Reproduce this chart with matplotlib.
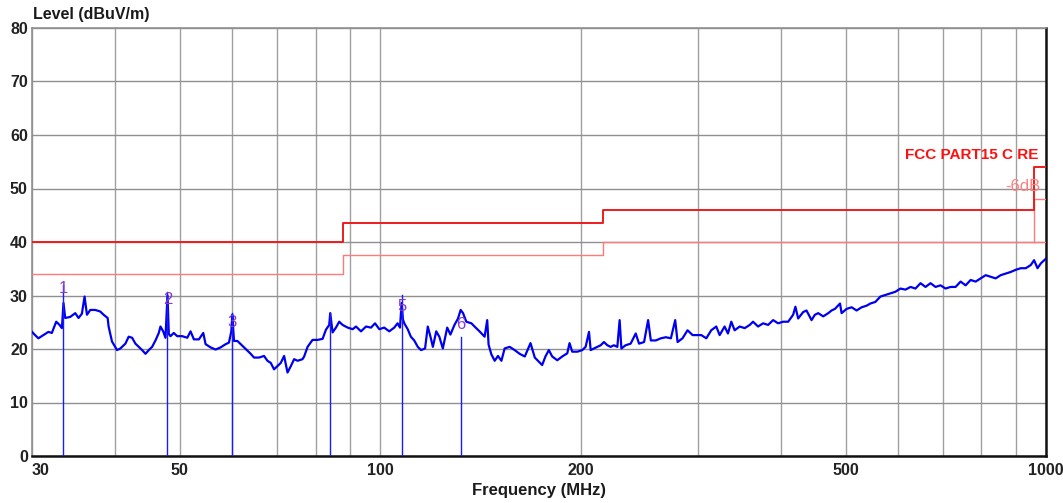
import matplotlib
matplotlib.use("Agg")
import matplotlib.pyplot as plt
from matplotlib.ticker import FixedLocator, NullFormatter

plt.rcParams['font.family'] = ['Liberation Sans', 'DejaVu Sans']

# ---------------- data ----------------
# measured trace (MHz, dBuV/m), read from the picture
freq_a = [30.0, 30.32, 30.67, 31.20, 31.75, 32.13, 32.62, 33.0, 33.27, 33.45, 33.65, 34.24, 34.84, 35.24,
          35.65, 35.98, 36.28, 36.70, 37.34, 37.99, 38.43, 38.97, 39.1, 39.56, 40.26, 40.72, 41.44, 41.91,
          42.41, 42.9, 43.4, 43.9, 44.42, 44.93, 45.45, 45.98, 46.51, 46.78, 47.22, 47.60, 47.93, 48.15,
          48.43, 48.98, 49.57, 50.43, 51.32, 51.91, 52.51, 53.43, 54.24, 54.68, 55.64, 56.61, 57.6, 58.6,
          59.28, 59.77, 59.98, 60.32, 61.04, 61.74, 62.44, 63.19, 63.91, 64.65, 65.78, 66.93, 67.72, 68.5,
          69.29, 70.12, 70.92, 71.74, 72.59, 73.43, 74.27, 75.16, 76.46]
level_a = [23.2, 22.6, 22.0, 22.6, 23.2, 23.0, 25.1, 24.5, 23.9, 28.6, 25.8, 26.0, 26.7, 25.8,
           26.6, 29.8, 26.4, 27.3, 27.3, 27.0, 26.4, 25.8, 24.2, 21.4, 19.8, 20.1, 21.0, 22.3,
           22.1, 21.0, 20.4, 19.8, 19.1, 19.8, 20.4, 21.6, 23.0, 24.2, 23.3, 22.1, 30.0, 22.8,
           22.4, 23.0, 22.4, 22.4, 22.1, 23.3, 21.8, 21.8, 23.0, 20.9, 20.3, 19.9, 20.3, 20.9,
           21.2, 23.3, 26.4, 21.5, 21.5, 20.9, 20.3, 19.7, 19.1, 18.4, 18.4, 18.7, 17.8, 17.4,
           16.2, 16.8, 17.4, 18.7, 15.6, 16.8, 18.1, 17.8, 18.1]

freq_b = [76.89, 77.8, 79.15, 80.55, 81.95, 82.9, 83.85, 84.14, 84.83, 85.82, 86.8, 87.82, 89.37, 90.93,
          91.98, 93.59, 95.23, 96.89, 98.24, 99.71, 101.4, 103.2, 105.0, 106.2, 107.1, 107.7, 108.2, 108.7,
          110.0, 111.2, 112.5, 113.9, 115.2, 116.8, 117.9, 119.0, 120.0, 121.4, 122.7, 124.2, 126.1, 127.5,
          129.3, 130.9, 132.1, 133.2, 134.7, 137.1, 138.6, 141.0, 143.5, 144.8, 145.5, 146.9, 148.6, 150.3,
          152.1, 153.8, 156.5, 159.2, 162.0, 164.9, 168.2, 170.7]
level_b = [18.6, 20.4, 21.7, 21.7, 21.9, 23.6, 24.5, 26.7, 23.1, 24.0, 25.1, 24.5, 24.0, 23.7,
           24.2, 23.3, 24.2, 24.0, 24.8, 23.7, 24.0, 23.3, 24.0, 24.8, 24.0, 28.6, 25.5, 24.8,
           23.7, 22.3, 21.6, 20.4, 19.8, 20.1, 24.2, 22.3, 20.4, 23.3, 22.3, 20.1, 24.0, 22.7,
           24.5, 25.7, 27.3, 26.7, 25.1, 24.8, 24.2, 23.3, 22.3, 25.4, 20.8, 19.0, 17.8, 18.7,
           17.8, 20.1, 20.4, 19.8, 19.1, 18.6, 21.1, 18.4]

freq_c = [175.1, 177.1, 179.2, 181.3, 184.5, 187.7, 191.0, 192.5, 194.3, 197.8, 201.2, 203.5, 205.9, 207.1,
          209.4, 211.9, 214.4, 216.8, 219.4, 221.9, 224.4, 227.1, 228.9, 230.3, 233.7, 237.8, 242.0, 244.8,
          249.1, 252.6, 255.0, 259.4, 264.0, 268.6, 273.3, 277.4, 279.7, 284.5, 289.5, 294.6, 299.8]
level_c = [17.0, 18.6, 19.8, 18.6, 17.9, 18.6, 19.2, 21.1, 19.5, 19.5, 19.8, 20.4, 23.2, 19.8,
           20.1, 20.4, 20.7, 21.3, 20.7, 20.4, 20.7, 20.4, 25.4, 20.1, 20.7, 21.0, 22.9, 21.0,
           21.3, 25.4, 21.6, 21.6, 22.0, 22.2, 22.0, 25.4, 21.3, 22.0, 23.5, 22.6, 22.6]

freq_d = [303.6, 308.9, 314.2, 319.7, 323.5, 329.1, 332.9, 336.8, 340.7, 346.7, 352.8, 359.0, 363.1, 369.5,
          375.9, 382.5, 389.2, 396.0, 402.9, 410.0, 417.1, 420.4, 424.4, 431.8, 436.8, 444.5, 449.7, 454.9,
          462.8, 471.0, 476.4, 482.0, 490.5, 493.2, 501.8, 510.6, 519.5, 528.6, 537.8]
level_d = [22.6, 22.0, 23.5, 24.2, 22.6, 24.2, 22.9, 25.1, 23.5, 24.2, 23.9, 24.5, 25.1, 24.2,
           24.8, 24.5, 25.4, 24.8, 25.1, 25.1, 26.4, 27.9, 25.7, 26.9, 27.2, 25.4, 26.4, 26.7,
           26.1, 26.7, 27.2, 27.5, 28.5, 26.7, 27.5, 27.8, 27.2, 27.8, 28.1]

freq_e = [544.8, 554.3, 564.0, 573.8, 583.9, 594.1, 604.5, 615.1, 625.9, 636.7, 647.9, 659.2, 670.8, 682.5,
          694.4, 706.5, 718.9, 731.5, 744.3, 757.3, 770.6, 784.0, 797.8, 811.7, 825.9, 840.3, 855.0, 869.9,
          885.2, 900.6, 916.4, 932.4, 948.8, 959.6, 971.1, 982.3, 1000.0]
level_e = [28.5, 28.8, 29.8, 30.1, 30.4, 30.7, 31.3, 31.1, 31.6, 31.3, 32.3, 31.6, 32.3, 31.6,
           31.9, 31.3, 31.6, 31.6, 32.6, 31.9, 32.9, 32.6, 33.2, 33.8, 33.5, 33.2, 33.8, 34.1,
           34.4, 34.8, 35.1, 35.1, 35.7, 36.6, 35.1, 36.0, 36.9]

# peak markers
marker_freq = [33.45, 47.93, 59.98, 84.14, 107.7, 132.1]
marker_level = [32.0, 30.6, 26.7, 26.7, 30.1, 22.2]
marker_text = ['1', '2', '3', '', '5', '6']

# FCC Part 15 C radiated-emission limit and the -6 dB line
limit_freq = [30, 88, 88, 216, 216, 960, 960, 1000]
limit_level = [40, 40, 43.5, 43.5, 46, 46, 54, 54]
limit6_freq = [30, 88, 88, 216, 216, 1000]
limit6_level = [34, 34, 37.5, 37.5, 40, 40]
limit6_end_freq = [960, 960, 1000]
limit6_end_level = [40, 48, 48]

x_label_ticks = [30, 50, 100, 200, 500, 1000]
x_grid = [40, 50, 60, 70, 80, 90, 100, 200, 300, 400, 500, 600, 700, 800, 900]
y_ticks = [0, 10, 20, 30, 40, 50, 60, 70, 80]

# ---------------- plot ----------------
W, H = 1063, 503
fig = plt.figure(figsize=(W / 100, H / 100), dpi=100)
L, R, T, B = 32, 1046, 28, 456
ax = fig.add_axes([L / W, (H - B) / H, (R - L) / W, (B - T) / H])
ax.set_xscale('log')
ax.set_xlim(30, 1000)
ax.set_ylim(0, 80)

ax.xaxis.set_major_locator(FixedLocator(x_label_ticks))
ax.xaxis.set_minor_locator(FixedLocator(x_grid))
ax.xaxis.set_minor_formatter(NullFormatter())
ax.set_xticklabels([str(v) for v in x_label_ticks])
ax.set_yticks(y_ticks)
ax.set_yticklabels([str(v) for v in y_ticks])
ax.tick_params(which='both', length=0)
ax.tick_params(axis='x', pad=5, labelsize=11.5, labelcolor='#222222')
ax.tick_params(axis='y', pad=3, labelsize=11.5, labelcolor='#222222')
for lbl in ax.get_xticklabels() + ax.get_yticklabels():
    lbl.set_fontweight('bold')
ax.get_xticklabels()[0].set_horizontalalignment('left')

ax.grid(True, which='both', axis='x', color='#a0a0a0', linewidth=1.0)
ax.grid(True, which='major', axis='y', color='#909090', linewidth=1.0)
ax.set_axisbelow(True)

for s in ['left', 'top']:
    ax.spines[s].set_color('#909090')
    ax.spines[s].set_linewidth(1.2)
for s in ['bottom', 'right']:
    ax.spines[s].set_color('#111111')
    ax.spines[s].set_linewidth(1.8)

# limit lines
ax.plot(limit6_freq, limit6_level, color='#ff7a7a', linewidth=1.0, zorder=3)
ax.plot(limit6_end_freq, limit6_end_level, color='#ff7a7a', linewidth=1.0, zorder=3)
ax.plot(limit_freq, limit_level, color='#ee1c1c', linewidth=1.4, zorder=3)

# trace
freq = freq_a + freq_b + freq_c + freq_d + freq_e
level = level_a + level_b + level_c + level_d + level_e
ax.plot(freq, level, color='#0000f0', linewidth=1.6, zorder=4)

# markers
label_offset = [-0.7, -1.4, -1.8, 0, -2.1, 2.3]
for f, lv, t, off in zip(marker_freq, marker_level, marker_text, label_offset):
    ax.plot([f, f], [0, lv], color='#1a1aff', linewidth=1.0, zorder=4)
    if t:
        ax.text(f, lv + off, t, color='#8a3ad0', fontsize=12, ha='center', va='center', zorder=5)

# legend-like annotations
ax.text(973, 56.2, 'FCC PART15 C RE', color='#ff1010', fontsize=11, fontweight='bold',
        ha='right', va='center', zorder=5)
ax.text(980, 50.3, '-6dB', color='#ff8080', fontsize=12, ha='right', va='center', zorder=5)

fig.text(33 / W, 1 - 14 / H, 'Level (dBuV/m)', fontsize=11.5, fontweight='bold', color='#1a1a1a',
         ha='left', va='center')
fig.text((L + R) / 2 / W, 1 - 490 / H, 'Frequency (MHz)', fontsize=12, color='#1a1a1a',
         ha='center', va='center', fontweight='bold')

fig.savefig('out.png', dpi=100, facecolor='white')
